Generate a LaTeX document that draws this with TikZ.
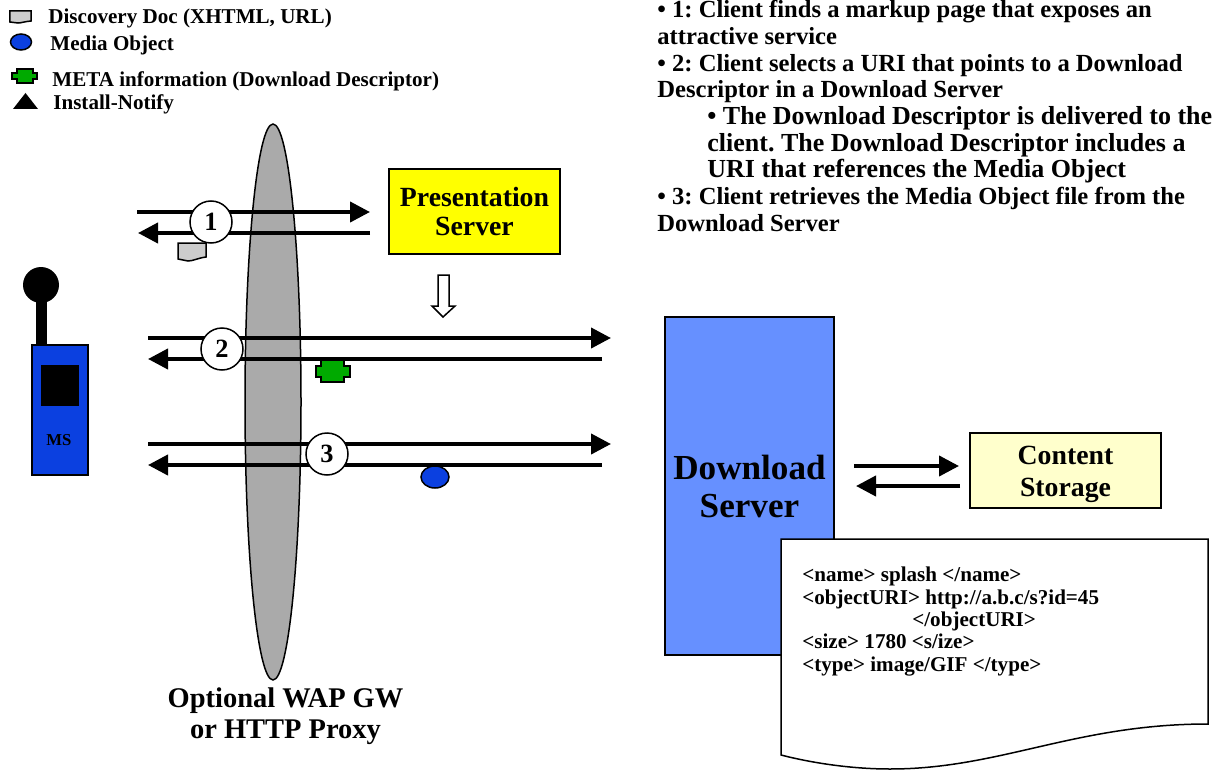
\documentclass[tikz,border=0pt]{standalone}
\usepackage{fontspec}
\setmainfont{Liberation Serif}
\usepackage{xcolor}
\usepackage{tikz}
\usetikzlibrary{arrows.meta}
\usetikzlibrary{shapes.geometric}
\frenchspacing
\definecolor{gwgray}{HTML}{AAAAAA}
\definecolor{docgray}{HTML}{CCCCCC}
\definecolor{msblue}{HTML}{0B40E0}
\definecolor{serverblue}{HTML}{6690FF}
\definecolor{metagreen}{HTML}{00AA00}
\definecolor{serveryellow}{HTML}{FFFF00}
\definecolor{paleyellow}{HTML}{FFFFCC}
\newcommand{\subline}{\hspace*{1cm}\fontsize{14.8}{15.2}\selectfont}
\tikzset{
  outline/.style={draw=black, line width=0.03cm},
  flow/.style={line width=0.08cm, -{Stealth[inset=0pt,length=0.4cm,width=0.4cm]}},
  stepcircle/.style={outline, circle, fill=white, minimum size=0.84cm, inner sep=0pt, font=\bfseries\fontsize{15}{17}\selectfont},
  legendtext/.style={anchor=west, inner sep=0pt, font=\bfseries\fontsize{12}{14}\selectfont},
  serverbox/.style={outline, align=center, inner sep=0pt}
}
\begin{document}
\begin{tikzpicture}
\useasboundingbox (0,0) rectangle (24.36,15.4);
% legend
\draw [outline, fill=docgray] (0.2,15.18) -- (0.62,15.18) -- (0.62,14.98) .. controls (0.5,14.97) and (0.42,14.94) .. (0.36,14.94) -- (0.2,14.96) -- cycle;
\draw [outline, fill=msblue] (0.42,14.56) ellipse (0.21 and 0.16);
\draw [outline, fill=metagreen] (0.34,14.02) -- (0.66,14.02) -- (0.66,13.94) -- (0.74,13.94) -- (0.74,13.82) -- (0.66,13.82) -- (0.66,13.74) -- (0.34,13.74) -- (0.34,13.82) -- (0.24,13.82) -- (0.24,13.94) -- (0.34,13.94) -- cycle;
\fill (0.26,13.22) -- (0.76,13.22) -- (0.51,13.54) -- cycle;
\node [legendtext] (legenddoc) at (0.96,15.04) {Discovery Doc (XHTML, URL)};
\node [legendtext] (legendmedia) at (1.0,14.5) {Media Object};
\node [legendtext] (legendmeta) at (1.04,13.78) {META information (Download Descriptor)};
\node [legendtext] (legendnotify) at (1.06,13.32) {Install-Notify};
% steps text
\node [anchor=west, inner sep=0pt, align=left, font=\bfseries\fontsize{14}{15.2}\selectfont] (steps) at (13.14,13.08) {%
• 1: Client finds a markup page that exposes an\\
attractive service\\
• 2: Client selects a URI that points to a Download\\
Descriptor in a Download Server\\
\subline • The Download Descriptor is delivered to the\\
\subline client. The Download Descriptor includes a\\
\subline URI that references the Media Object\\
• 3: Client retrieves the Media Object file from the\\
Download Server};
% gateway
\node [outline, ellipse, fill=gwgray, minimum width=1.12cm, minimum height=11.12cm, inner sep=0pt] (gateway) at (5.46,7.36) {};
\node [align=center, inner sep=0pt, font=\bfseries\fontsize{16.2}{17.6}\selectfont] (gatewaylabel) at (5.71,1.08) {Optional WAP GW\\or HTTP Proxy};
% mobile
\draw [line width=0.22cm] (0.83,9.5) -- (0.83,8.5);
\fill (0.82,9.7) circle (0.36);
\node [outline, fill=msblue, minimum width=1.12cm, minimum height=2.6cm, inner sep=0pt] (mobile) at (1.2,7.2) {};
\node [fill=black, minimum width=0.76cm, minimum height=0.82cm, inner sep=0pt] (screen) at (1.2,7.69) {};
\node [inner sep=0pt, font=\bfseries\fontsize{9.5}{11}\selectfont] (mslabel) at (1.18,6.6) {MS};
% servers
\node [serverbox, fill=serveryellow, minimum width=3.42cm, minimum height=1.7cm, font=\bfseries\fontsize{15.8}{17}\selectfont] (presentation) at (9.49,11.17) {Presentation\\Server};
\node [serverbox, fill=serverblue, minimum width=3.38cm, minimum height=6.76cm, font=\bfseries\fontsize{20}{21.6}\selectfont] (download) at (14.99,5.68) {Download\\Server};
\node [outline, fill=paleyellow, minimum width=3.82cm, minimum height=1.5cm, inner sep=0pt] (storage) at (21.31,5.99) {};
\node [align=center, inner sep=0pt, font=\bfseries\fontsize{15.8}{18}\selectfont] (storagelabel) at (21.31,5.91) {Content\\Storage};
% arrow ends
\coordinate (a1) at (2.74,11.16);
\coordinate (b1) at (7.4,11.16);
\coordinate (c1) at (7.4,10.74);
\coordinate (d1) at (2.76,10.74);
\coordinate (a2) at (2.96,8.64);
\coordinate (b2) at (12.22,8.64);
\coordinate (c2) at (12.04,8.22);
\coordinate (d2) at (2.96,8.22);
\coordinate (a3) at (2.96,6.52);
\coordinate (b3) at (12.22,6.52);
\coordinate (c3) at (12.04,6.1);
\coordinate (d3) at (2.96,6.1);
\coordinate (a4) at (17.08,6.08);
\coordinate (b4) at (19.18,6.08);
\coordinate (c4) at (19.2,5.68);
\coordinate (d4) at (17.12,5.68);
\draw [flow] (a1) -- (b1);
\draw [flow] (c1) -- (d1);
\draw [flow] (a2) -- (b2);
\draw [flow] (c2) -- (d2);
\draw [flow] (a3) -- (b3);
\draw [flow] (c3) -- (d3);
\draw [flow] (a4) -- (b4);
\draw [flow] (c4) -- (d4);
\node [stepcircle] (step1) at (4.22,10.96) {1};
\node [stepcircle] (step2) at (4.44,8.42) {2};
\node [stepcircle] (step3) at (6.54,6.32) {3};
% items on the flows
\draw [outline, fill=docgray] (3.56,10.54) -- (4.12,10.54) -- (4.12,10.26) .. controls (3.96,10.24) and (3.86,10.18) .. (3.76,10.18) -- (3.56,10.22) -- cycle;
\draw [outline, fill=metagreen] (6.42,8.2) -- (6.88,8.2) -- (6.88,8.08) -- (7.0,8.08) -- (7.0,7.86) -- (6.88,7.86) -- (6.88,7.76) -- (6.42,7.76) -- (6.42,7.86) -- (6.32,7.86) -- (6.32,8.08) -- (6.42,8.08) -- cycle;
\draw [outline, fill=msblue] (8.7,5.86) ellipse (0.28 and 0.22);
% hollow arrow
\draw [outline, fill=white] (8.76,9.9) -- (8.98,9.9) -- (8.98,9.28) -- (9.1,9.28) -- (8.86,9.06) -- (8.64,9.28) -- (8.76,9.28) -- cycle;
% descriptor page
\draw [outline, fill=white] (15.62,4.62) -- (24.16,4.62) -- (24.16,0.92) .. controls (21.5,0.92) and (20,0.02) .. (17.8,0.02) .. controls (17,0.02) and (16.2,0.15) .. (15.62,0.3) -- cycle;
\node [anchor=west, inner sep=0pt, align=left, font=\bfseries\fontsize{12}{12.8}\selectfont] (descriptor) at (16.04,2.97) {%
<name> splash </name>\\
<objectURI> http://a.b.c/s?id=45\\
\hspace*{2.2cm}</objectURI>\\
<size> 1780 <s/ize>\\
<type> image/GIF </type>};
\end{tikzpicture}
\end{document}
